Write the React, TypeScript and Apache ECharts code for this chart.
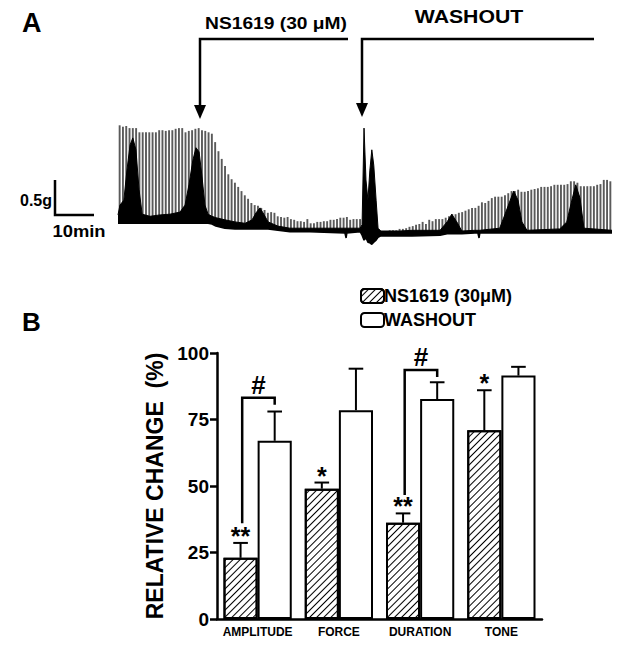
import React, { useEffect, useRef } from "react";
import * as echarts from "echarts";

// ---------- Panel B data ----------
const categories = ["AMPLITUDE", "FORCE", "DURATION", "TONE"];
const ns1619Mean = [23, 49, 36.2, 71];
const ns1619Err = [5.6, 2.3, 3.5, 15];
const washoutMean = [67, 78.5, 82.7, 91.5];
const washoutErr = [11, 15.6, 6.3, 3.3];
const ns1619Stars = ["**", "*", "**", "*"];
const hashCats = [0, 2];
const hashTop = [83.2, 93.6];
const hashLeftFrom = [36, 46.6];
const hashRightFrom = [80.5, 91];
const yTicks = { min: 0, max: 100, interval: 25 };

// ---------- Panel A data (tension, g; time, min) ----------
const tracePeaks = [
  1.71, 1.69, 1.7, 1.67, 1.67, 1.67, 1.61, 1.61, 1.61, 1.61,
  1.61, 1.61, 1.64, 1.64, 1.63, 1.64, 1.64, 1.66, 1.67, 1.67,
  1.61, 1.63, 1.64, 1.66, 1.67, 1.64, 1.63, 1.61, 1.59, 1.47,
  1.34, 1.23, 1.13, 1.01, 0.94, 0.89, 0.83, 0.77, 0.71, 0.66,
  0.6, 0.57, 0.56, 0.53, 0.5, 0.46, 0.47, 0.46, 0.41, 0.4,
  0.39, 0.4, 0.37, 0.36, 0.34, 0.34, 0.33, 0.37, 0.31, 0.31,
  0.33, 0.33, 0.34, 0.34, 0.36, 0.36, 0.37, 0.39, 0.39, 0.4,
  0.36, 0.37, 0.37, 0.37, 0.29, 0.29, 0.29, 0.24, 0.2, 0.2,
  0.2, 0.2, 0.21, 0.21, 0.21, 0.23, 0.23, 0.24, 0.26, 0.27,
  0.29, 0.3, 0.33, 0.3, 0.36, 0.34, 0.37, 0.37, 0.37, 0.39,
  0.41, 0.44, 0.44, 0.46, 0.47, 0.49, 0.51, 0.53, 0.53, 0.56,
  0.61, 0.6, 0.63, 0.67, 0.69, 0.69, 0.69, 0.71, 0.74, 0.77,
  0.77, 0.79, 0.76, 0.76, 0.77, 0.79, 0.8, 0.81, 0.83, 0.83,
  0.83, 0.84, 0.86, 0.86, 0.86, 0.86, 0.87, 0.91, 0.91, 0.89,
  0.84, 0.84, 0.84, 0.84, 0.84, 0.86, 0.87, 0.93, 0.93, 0.91,
];
const bandTime = [
  0, 0.5, 1.5, 2.3, 3.1, 3.8, 4.6, 5.4, 6.2, 8.2,
  10.8, 13.3, 15.9, 17.2, 18.2, 19.2, 20.0, 20.8, 21.5, 22.3,
  23.1, 24.1, 25.1, 27.4, 30.0, 32.6, 34.4, 35.4, 36.4, 37.4,
  38.5, 41.0, 44.1, 49.2, 58.2, 58.5, 58.7, 62.1, 62.6, 63.1,
  63.6, 64.1, 64.6, 65.1, 65.6, 66.2, 66.7, 67.4, 72.3, 75.4,
  82.6, 84.4, 85.6, 86.9, 88.2, 91.5, 92.3, 92.6, 92.8, 97.9,
  99.2, 100.8, 101.5, 102.6, 103.6, 104.9, 113.3, 115.1, 116.4, 117.4,
  118.5, 119.5, 126.7,
];
const bandFloor = [
  0.31, 0.31, 0.31, 0.31, 0.31, 0.31, 0.31, 0.31, 0.31, 0.31,
  0.31, 0.31, 0.31, 0.31, 0.31, 0.31, 0.31, 0.31, 0.31, 0.31,
  0.31, 0.3, 0.27, 0.24, 0.23, 0.23, 0.23, 0.23, 0.23, 0.23,
  0.23, 0.21, 0.19, 0.19, 0.17, 0.1, 0.17, 0.19, 0.14, 0.07,
  0.1, 0.04, 0.03, 0.01, 0.04, 0.07, 0.11, 0.13, 0.13, 0.13,
  0.14, 0.16, 0.16, 0.16, 0.16, 0.17, 0.17, 0.1, 0.17, 0.17,
  0.17, 0.17, 0.17, 0.17, 0.17, 0.17, 0.17, 0.17, 0.17, 0.17,
  0.17, 0.17, 0.17,
];
const bandTop = [
  0.43, 0.57, 0.64, 1.07, 1.43, 1.53, 1.36, 0.79, 0.44, 0.41,
  0.43, 0.44, 0.47, 0.57, 0.86, 1.21, 1.39, 1.33, 1.0, 0.57,
  0.44, 0.41, 0.39, 0.36, 0.33, 0.31, 0.36, 0.46, 0.53, 0.44,
  0.33, 0.27, 0.24, 0.24, 0.24, 0.24, 0.24, 0.24, 0.29, 1.67,
  0.93, 0.64, 1.07, 1.36, 1.14, 0.64, 0.24, 0.2, 0.2, 0.21,
  0.21, 0.33, 0.44, 0.33, 0.2, 0.21, 0.21, 0.21, 0.21, 0.24,
  0.43, 0.67, 0.77, 0.64, 0.33, 0.21, 0.23, 0.33, 0.64, 0.86,
  0.67, 0.24, 0.21,
];
const traceMaxTime = 126.7;
const traceMaxG = 2;

const FONT = "Arial, 'Liberation Sans', sans-serif";

function errorSeries(name: string, means: number[], errs: number[], side: number, stars: string[] | null) {
  return {
    type: "custom",
    name,
    xAxisIndex: 0,
    yAxisIndex: 0,
    z: 5,
    silent: true,
    data: means.map((m, i) => [i, m, errs[i]]),
    renderItem: (params: any, api: any) => {
      const i = api.value(0);
      const m = api.value(1);
      const e = api.value(2);
      const band = api.size([1, 0])[0];
      const cx = api.coord([i, 0])[0] + side * band * 0.21;
      const yBase = api.coord([i, m])[1];
      const yTop = api.coord([i, m + e])[1];
      const cap = band * 0.09;
      const children: any[] = [
        { type: "line", shape: { x1: cx, y1: yBase, x2: cx, y2: yTop }, style: { stroke: "#000", lineWidth: 2 } },
        { type: "line", shape: { x1: cx - cap, y1: yTop, x2: cx + cap, y2: yTop }, style: { stroke: "#000", lineWidth: 2 } },
      ];
      if (stars) {
        children.push({
          type: "text",
          x: cx,
          y: yTop - 7,
          style: { text: stars[params.dataIndex], font: `bold 25px ${FONT}`, fill: "#000", align: "center", verticalAlign: "middle" },
        });
      }
      return { type: "group", children };
    },
  };
}

export default function App() {
  const ref = useRef<HTMLDivElement>(null);
  useEffect(() => {
    if (!ref.current) return;
    const chart = echarts.init(ref.current, null, { renderer: "svg" });
    const spikeIdx = tracePeaks.map((_, i) => String(i + 1));
    const hatch = {
      color: "#000",
      symbol: "rect",
      symbolSize: 1,
      dashArrayX: [1, 0],
      dashArrayY: [1, 3.6],
      rotation: -Math.PI / 4,
    };
    const option: any = {
      animation: false,
      legend: {
        data: ["NS1619 (30μM)", "WASHOUT"],
        orient: "vertical",
        left: 355,
        top: 282,
        itemWidth: 23,
        itemHeight: 14,
        itemGap: 6,
        selectedMode: false,
        textStyle: { color: "#000", fontWeight: "bold", fontSize: 18, fontFamily: FONT, padding: [0, 0, 0, -5] },
      },
      grid: [
        { left: 217, top: 353, width: 325, height: 266 },
        { left: 118, top: 105, width: 494, height: 140 },
      ],
      xAxis: [
        {
          type: "category",
          gridIndex: 0,
          data: categories,
          axisLine: { lineStyle: { color: "#000", width: 2.5 } },
          axisTick: { show: false },
          axisLabel: { color: "#000", fontWeight: "bold", fontSize: 12, fontFamily: FONT, margin: 7, interval: 0 },
        },
        { type: "category", gridIndex: 1, data: spikeIdx, show: false },
        { type: "value", gridIndex: 1, min: 0, max: traceMaxTime, show: false },
      ],
      yAxis: [
        {
          type: "value",
          gridIndex: 0,
          min: yTicks.min,
          max: yTicks.max,
          interval: yTicks.interval,
          name: "RELATIVE CHANGE  (%)",
          nameLocation: "middle",
          nameGap: 45,
          nameTextStyle: { color: "#000", fontWeight: "bold", fontSize: 23, fontFamily: FONT },
          axisLine: { show: true, lineStyle: { color: "#000", width: 2.5 } },
          axisTick: { show: true, length: 7, lineStyle: { color: "#000", width: 2.5 } },
          splitLine: { show: false },
          axisLabel: { color: "#000", fontWeight: "bold", fontSize: 19, fontFamily: FONT, margin: 8 },
        },
        { type: "value", gridIndex: 1, min: 0, max: traceMaxG, show: false },
      ],
      series: [
        {
          type: "bar",
          name: "NS1619 (30μM)",
          xAxisIndex: 0,
          yAxisIndex: 0,
          data: ns1619Mean,
          barWidth: "42%",
          barGap: "0%",
          itemStyle: { color: "#fff", borderColor: "#000", borderWidth: 2, decal: hatch },
          z: 3,
        },
        {
          type: "bar",
          name: "WASHOUT",
          xAxisIndex: 0,
          yAxisIndex: 0,
          data: washoutMean,
          barWidth: "42%",
          barGap: "0%",
          itemStyle: { color: "#fff", borderColor: "#000", borderWidth: 2 },
          z: 3,
        },
        errorSeries("errNS", ns1619Mean, ns1619Err, -1, ns1619Stars),
        errorSeries("errWash", washoutMean, washoutErr, 1, null),
        {
          type: "custom",
          name: "brackets",
          xAxisIndex: 0,
          yAxisIndex: 0,
          z: 6,
          silent: true,
          data: hashCats.map((c, k) => [c, hashLeftFrom[k], hashRightFrom[k], hashTop[k]]),
          renderItem: (params: any, api: any) => {
            const c = api.value(0);
            const band = api.size([1, 0])[0];
            const cx = api.coord([c, 0])[0];
            const xL = cx - band * 0.19;
            const xR = cx + band * 0.21;
            const yL = api.coord([c, api.value(1)])[1];
            const yR = api.coord([c, api.value(2)])[1];
            const yT = api.coord([c, api.value(3)])[1];
            return {
              type: "group",
              children: [
                {
                  type: "polyline",
                  shape: { points: [[xL, yL], [xL, yT], [xR, yT], [xR, yR]] },
                  style: { stroke: "#000", lineWidth: 2.5, fill: "none" },
                },
                {
                  type: "text",
                  x: (xL + xR) / 2,
                  y: yT - 13,
                  style: { text: "#", font: `bold 26px ${FONT}`, fill: "#000", align: "center", verticalAlign: "middle" },
                },
              ],
            };
          },
        },
        {
          type: "bar",
          name: "trace",
          xAxisIndex: 1,
          yAxisIndex: 1,
          data: tracePeaks,
          barWidth: 1.9,
          itemStyle: { color: "#5a5a5a" },
          silent: true,
          z: 2,
        },
        {
          type: "line",
          name: "traceBand",
          xAxisIndex: 2,
          yAxisIndex: 1,
          data: bandTime.map((t, i) => [t, bandTop[i]]),
          showSymbol: false,
          lineStyle: { color: "#000", width: 1 },
          areaStyle: { color: "#000", opacity: 1 },
          silent: true,
          z: 3,
        },
        {
          type: "line",
          name: "traceFloor",
          xAxisIndex: 2,
          yAxisIndex: 1,
          data: bandTime.map((t, i) => [t, bandFloor[i]]),
          showSymbol: false,
          lineStyle: { color: "#000", width: 1.5 },
          areaStyle: { color: "#fff", opacity: 1 },
          silent: true,
          z: 4,
        },
      ],
      graphic: [
        { type: "text", x: 22, y: 23, style: { text: "A", font: `bold 27px ${FONT}`, fill: "#000", verticalAlign: "middle" } },
        { type: "text", x: 22, y: 322, style: { text: "B", font: `bold 26px ${FONT}`, fill: "#000", verticalAlign: "middle" } },
        { type: "text", x: 276, y: 24, scaleX: 1.2, style: { text: "NS1619 (30 μM)", font: `bold 16px ${FONT}`, fill: "#000", align: "center", verticalAlign: "middle" } },
        { type: "text", x: 469, y: 17, scaleX: 1.18, style: { text: "WASHOUT", font: `bold 18px ${FONT}`, fill: "#000", align: "center", verticalAlign: "middle" } },
        { type: "text", x: 36, y: 200, style: { text: "0.5g", font: `bold 16px ${FONT}`, fill: "#000", align: "center", verticalAlign: "middle" } },
        { type: "text", x: 79, y: 231, scaleX: 1.15, style: { text: "10min", font: `bold 16px ${FONT}`, fill: "#000", align: "center", verticalAlign: "middle" } },
        { type: "polyline", shape: { points: [[55, 180], [55, 215], [94, 215]] }, style: { stroke: "#000", lineWidth: 2.5, fill: "none" } },
        { type: "polyline", shape: { points: [[348, 39], [200, 39], [200, 106]] }, style: { stroke: "#000", lineWidth: 2.5, fill: "none" } },
        { type: "polygon", shape: { points: [[194, 105], [206, 105], [200, 119]] }, style: { fill: "#000" } },
        { type: "polyline", shape: { points: [[594, 39], [362, 39], [362, 104]] }, style: { stroke: "#000", lineWidth: 2.5, fill: "none" } },
        { type: "polygon", shape: { points: [[356, 103], [368, 103], [362, 117]] }, style: { fill: "#000" } },
      ],
    };
    chart.setOption(option);
    return () => chart.dispose();
  }, []);
  return <div ref={ref} style={{ position: "absolute", left: 0, top: 0, width: 624, height: 645, background: "#fff" }} />;
}
